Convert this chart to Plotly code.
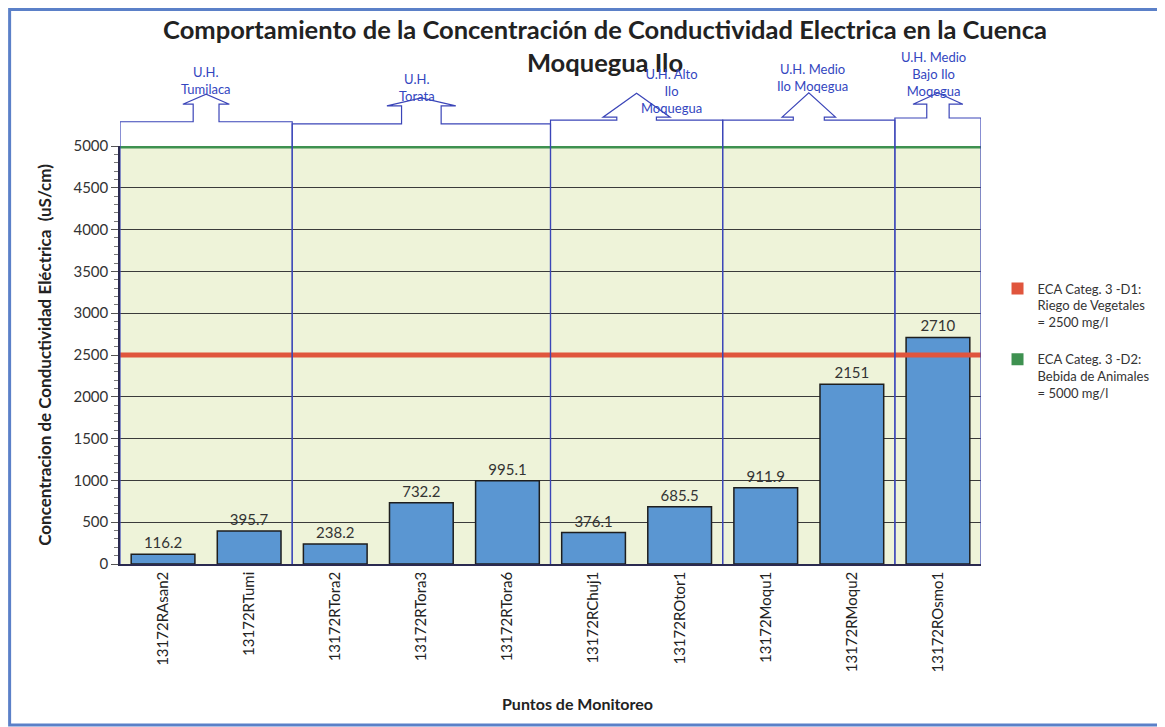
import plotly.graph_objects as go

# ---------------- data ----------------
categories = ["13172RAsan2", "13172RTumi", "13172RTora2", "13172RTora3", "13172RTora6",
              "13172RChuj1", "13172ROtor1", "13172Moqu1", "13172RMoqu2", "13172ROsmo1"]
values = [116.2, 395.7, 238.2, 732.2, 995.1, 376.1, 685.5, 911.9, 2151, 2710]
value_labels = ["116.2", "395.7", "238.2", "732.2", "995.1", "376.1", "685.5", "911.9", "2151", "2710"]

group_names = ["U.H.<br>Tumilaca", "U.H.<br>Torata", "U.H. Alto<br>Ilo<br>Moquegua",
               "U.H. Medio<br>Ilo Moqegua", "U.H. Medio<br>Bajo Ilo<br>Moqegua"]
group_sizes = [2, 3, 2, 2, 1]

eca_names = ["ECA Categ. 3 -D1:<br>Riego de Vegetales<br>= 2500 mg/l",
             "ECA Categ. 3 -D2:<br>Bebida de Animales<br>= 5000 mg/l"]
eca_values = [2500, 5000]

y_ticks = [0, 500, 1000, 1500, 2000, 2500, 3000, 3500, 4000, 4500, 5000]

# ---------------- styles ----------------
FONT = "Lato"
BAR_COLOR = "#5A96D2"
ECA_COLORS = ["#E0553D", "#3E9150"]
BRACKET_COLOR = "#3B45B8"
LABEL_COLOR = "#3346C0"

# bracket geometry (x half-widths in category units, y in paper units)
bracket_style = [
    dict(stem=0.15, wing=0.27, top=1.058, wingy=1.100, tip=1.124, lx=0.0, ly=1.156),
    dict(stem=0.23, wing=0.40, top=1.053, wingy=1.096, tip=1.115, lx=-0.05, ly=1.141),
    dict(stem=0.23, wing=0.39, top=1.062, wingy=1.069, tip=1.126, lx=0.40, ly=1.132),
    dict(stem=0.18, wing=0.31, top=1.062, wingy=1.069, tip=1.127, lx=0.04, ly=1.164),
    dict(stem=0.13, wing=0.29, top=1.067, wingy=1.100, tip=1.127, lx=-0.05, ly=1.172),
]

x_idx = list(range(len(categories)))

fig = go.Figure()

fig.add_trace(go.Bar(
    x=x_idx, y=values, width=0.74,
    marker=dict(color=BAR_COLOR, line=dict(color="#1E1E1E", width=1.5)),
    text=value_labels, textposition="outside",
    textfont=dict(family=FONT, size=15, color="#333333"),
    cliponaxis=False, showlegend=False,
))

x_lo, x_hi = -0.5, len(categories) - 0.5
for i, (name, val, col) in enumerate(zip(eca_names, eca_values, ECA_COLORS)):
    fig.add_trace(go.Scatter(
        x=[x_lo - 0.02, x_hi + 0.03], y=[val, val], mode="lines",
        line=dict(color=col, width=5), cliponaxis=False, showlegend=False,
        hoverinfo="skip",
    ))
    fig.add_trace(go.Scatter(
        x=[None], y=[None], mode="markers", name=name, legendgroup=f"eca{i}",
        marker=dict(symbol="square", size=12, color=col),
    ))

# group brackets
shapes = []
annotations = []
start = -0.5
for gname, size, st in zip(group_names, group_sizes, bracket_style):
    x0 = start
    x1 = start + size
    cx = (x0 + x1) / 2
    pts = [(x0, 0), (x0, st["top"]), (cx - st["stem"], st["top"]), (cx - st["stem"], st["wingy"]),
           (cx - st["wing"], st["wingy"]), (cx, st["tip"]), (cx + st["wing"], st["wingy"]),
           (cx + st["stem"], st["wingy"]), (cx + st["stem"], st["top"]), (x1, st["top"]), (x1, 0)]
    path = "M " + " L ".join(f"{px},{py}" for px, py in pts)
    shapes.append(dict(type="path", path=path, xref="x", yref="paper",
                       line=dict(color=BRACKET_COLOR, width=1.2), fillcolor="rgba(0,0,0,0)",
                       layer="above"))
    annotations.append(dict(x=cx + st["lx"], y=st["ly"], xref="x", yref="paper",
                            text=gname, showarrow=False, yanchor="middle", xanchor="center",
                            font=dict(family=FONT, size=13, color=LABEL_COLOR)))
    start = x1

# x-axis title
annotations.append(dict(x=0.531, y=-0.333, xref="paper", yref="paper", showarrow=False,
                        text="<b>Puntos de Monitoreo</b>", xanchor="center", yanchor="middle",
                        font=dict(family=FONT, size=16, color="#222222")))

# outer frame
shapes.append(dict(type="rect", xref="paper", yref="paper", x0=-0.1282, x1=1.25, y0=-0.385, y1=1.3266,
                   line=dict(color="#5B80C8", width=3), fillcolor="rgba(0,0,0,0)", layer="above"))

fig.update_layout(
    width=1157, height=719,
    margin=dict(l=112, r=183, t=138, b=163),
    paper_bgcolor="white", plot_bgcolor="#EEF3D9",
    font=dict(family=FONT, color="#333333"),
    title=dict(text="<b>Comportamiento de la Concentración de Conductividad Electrica en la Cuenca<br>Moquegua Ilo</b>",
               x=0.516, xanchor="center", y=0.957, yanchor="top",
               font=dict(family=FONT, size=25.5, color="#222222")),
    xaxis=dict(range=[x_lo, x_hi], tickmode="array", tickvals=x_idx, ticktext=categories,
               tickangle=-90, tickfont=dict(family=FONT, size=15, color="#222222"),
               showgrid=False, zeroline=False, showline=True, linecolor="#2A2A50", linewidth=1.5,
               ticks=""),
    yaxis=dict(range=[0, 5000], tickmode="array", tickvals=y_ticks,
               tickfont=dict(family=FONT, size=15, color="#333333"),
               showgrid=True, gridcolor="#3A3A3A", gridwidth=1, zeroline=False,
               showline=True, linecolor="#2A2A50", linewidth=1.5,
               ticks="outside", ticklen=7, tickcolor="#555555",
               minor=dict(dtick=100, ticks="outside", ticklen=4, tickcolor="#777777", showgrid=False),
               title=dict(text="<b>Concentracion de Conductividad Eléctrica  (uS/cm)</b>",
                          font=dict(family=FONT, size=17, color="#222222"), standoff=17)),
    legend=dict(x=1.018, y=0.695, xanchor="left", yanchor="top", valign="top",
                font=dict(family=FONT, size=13, color="#333333"), tracegroupgap=17,
                traceorder="grouped", bgcolor="rgba(0,0,0,0)", itemwidth=30),
    shapes=shapes, annotations=annotations,
)

fig.write_html("out.html")
